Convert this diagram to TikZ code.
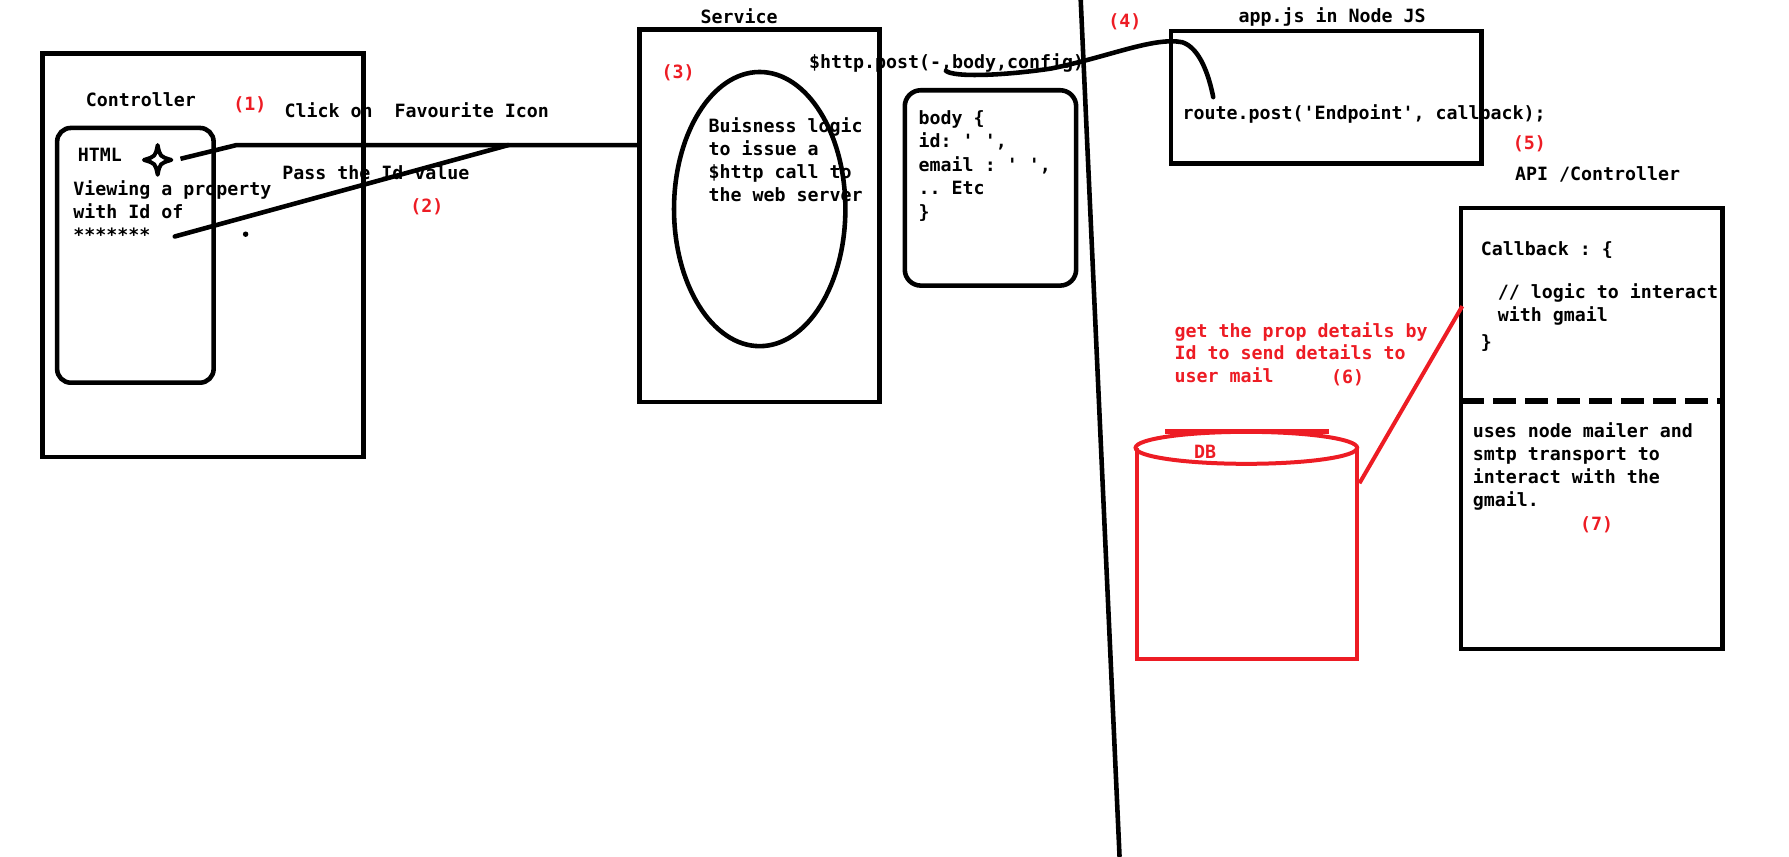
\documentclass[tikz,border=0pt]{standalone}
\usepackage{fontspec}
\setmonofont{DejaVu Sans Mono}
\definecolor{paintred}{RGB}{237,28,36}
\tikzset{
  txt/.style={anchor=base west, inner sep=0pt, align=left,
    font=\ttfamily\bfseries\fontsize{16}{20}\selectfont},
  num/.style={txt, text=paintred},
  box/.style={draw, line width=4pt},
  wire/.style={line width=4pt},
}

\begin{document}
\begin{tikzpicture}[x=1pt,y=-1pt]
            \useasboundingbox (0,0) rectangle (1566,750);
            % controller side
            \draw[box] (37,47) rectangle (318,400);
            \draw[box, rounded corners=12pt] (50,112) rectangle (187,335);
            \node[txt] (ctrl) at (75,93) {Controller};
            \node[num] (n1) at (204,97) {(1)};
            \node[txt] (click) at (249,103) {Click on\ \ Favourite Icon};
            \node[txt] (html) at (68,141) {HTML};
            \node[txt] (view) at (64,211) {Viewing a property\\with Id of\\*******};
            \node[txt] (pass) at (247,157) {Pass the Id value};
            \node[num] (n2) at (359,186) {(2)};
            \draw[line width=3.5pt, line join=round] (138,127) .. controls (140,137) .. (150,140)
              .. controls (140,143) .. (138,153) .. controls (136,143) .. (126,140)
              .. controls (136,137) .. cycle;
            \fill (215,205) circle (2.4);
            \coordinate (star) at (158,139);
            \coordinate (bend) at (207,127);
            \coordinate (meet) at (445,127);
            \coordinate (svcin) at (560,127);
            \coordinate (stars) at (153,207);
            \draw[wire, line join=round] (star) -- (bend) -- (svcin);
            \draw[wire, line cap=round] (stars) -- (meet);
            % service
            \draw[box] (560,26) rectangle (770,352);
            \node[txt] (svc) at (613,21) {Service};
            \node[num] (n3) at (579,69) {(3)};
            \draw[wire] (665,183) ellipse (75 and 120);
            \node[txt] (logic) at (620,176) {Buisness logic\\to issue a\\\$http call to\\the web server};
            \node[txt] (post) at (708,60) {\$http.post(-,body,config)};
            \draw[box, rounded corners=14pt] (792,79) rectangle (942,250);
            \node[txt, font=\ttfamily\bfseries\fontsize{16}{20.5}\selectfont] (body) at (804,191) {body \{\\id: ' ',\\email : ' ',\\.. Etc\\\}};
            % divider
            \coordinate (topline) at (946,0);
            \coordinate (botline) at (980,750);
            \draw[wire] (topline) -- (botline);
            % node js
            \node[num] (n4) at (970,24) {(4)};
            \draw[box] (1025,27) rectangle (1297,143);
            \node[txt] (app) at (1084,20) {app.js in Node JS};
            \node[txt] (route) at (1035,105) {route.post('Endpoint', callback);};
            \coordinate (cstart) at (828,62);
            \coordinate (cend) at (1062,85);
            \draw[wire, line cap=round] (cstart) .. controls (835,68) and (880,66) .. (920,60)
              .. controls (970,50) and (1010,32) .. (1035,37)
              .. controls (1050,42) and (1058,65) .. (cend);
            \node[num] (n5) at (1324,131) {(5)};
            \node[txt] (api) at (1326,158) {API /Controller};
            \draw[box] (1279,182) rectangle (1508,568);
            \draw[line width=4.5pt, dash pattern=on 20pt off 8pt] (1279,351) -- (1508,351);
            \node[txt] (cb) at (1296,224) {Callback : \{};
            \node[txt] (cmt) at (1311,281) {// logic to interact\\with gmail};
            \node[txt] (cbend) at (1296,305) {\}};
            \node[txt] (mailer) at (1289,443) {uses node mailer and\\smtp transport to\\interact with the\\gmail.};
            \node[num] (n7) at (1383,464) {(7)};
            % db
            \node[num] (prop) at (1028,335) {get the prop details by\\Id to send details to\\user mail};
            \node[num] (n6) at (1165,336) {(6)};
            \draw[paintred, line width=3.5pt] (995,392) -- (995,577) -- (1188,577) -- (1188,392);
            \draw[paintred, line width=3.5pt] (1091,392) ellipse (97 and 14);
            \draw[paintred, line width=4.5pt] (1020,378) -- (1163,378);
            \node[num] (db) at (1045,401) {DB};
            \coordinate (dbside) at (1190,423);
            \coordinate (apiside) at (1280,268);
            \draw[paintred, line width=3.5pt] (dbside) -- (apiside);
        \end{tikzpicture}
\end{document}
